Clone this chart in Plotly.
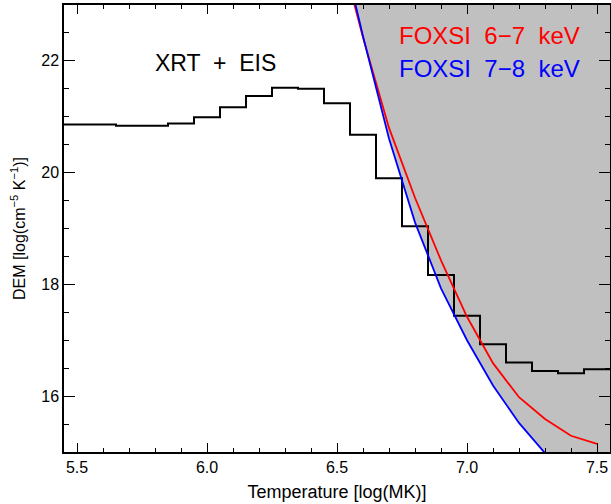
import numpy as np
import plotly.graph_objects as go

# ---- data ----
temp_centers = [5.5, 5.6, 5.7, 5.8, 5.9, 6.0, 6.1, 6.2, 6.3, 6.4, 6.5,
                6.6, 6.7, 6.8, 6.9, 7.0, 7.1, 7.2, 7.3, 7.4, 7.5]
dem_xrt_eis = [20.86, 20.86, 20.84, 20.84, 20.88, 20.99, 21.17, 21.37, 21.52, 21.50, 21.24,
               20.68, 19.90, 19.04, 18.17, 17.44, 16.93, 16.60, 16.45, 16.41, 16.48]
bin_width = 0.1

foxsi67_t = [6.5, 6.6, 6.7, 6.8, 6.9, 7.0, 7.1, 7.2, 7.3, 7.4, 7.5]
foxsi67_dem = [24.2, 22.42, 20.80, 19.55, 18.43, 17.42, 16.59, 15.98, 15.59, 15.29, 15.145]

foxsi78_t = [6.5, 6.6, 6.7, 6.8, 6.9, 7.0, 7.1, 7.2, 7.3]
foxsi78_dem = [24.4, 22.44, 20.61, 19.11, 17.93, 17.0, 16.19, 15.52, 14.98]

x_range = [5.45, 7.55]
y_range = [15, 23]
x_ticks = [5.5, 6.0, 6.5, 7.0, 7.5]
x_ticklabels = ["5.5", "6.0", "6.5", "7.0", "7.5"]
y_ticks = [16, 18, 20, 22]
y_ticklabels = ["16", "18", "20", "22"]

# ---- derived ----
centers = np.array(temp_centers)
edges = np.concatenate([centers - bin_width / 2, [centers[-1] + bin_width / 2]])
edges[0] = max(edges[0], x_range[0])
edges[-1] = min(edges[-1], x_range[1])
step_y = list(dem_xrt_eis) + [dem_xrt_eis[-1]]

n = len(foxsi78_t)
lower = np.minimum(np.array(foxsi67_dem[:n]), np.array(foxsi78_dem))
above = y_range[1] + 3
fill_x = list(foxsi78_t) + [x_range[1] + 0.1, x_range[1] + 0.1, foxsi78_t[0]]
fill_y = list(lower) + [lower[-1], above, above]

fig = go.Figure()
fig.add_trace(go.Scatter(x=fill_x, y=fill_y, fill="toself", mode="none",
                         fillcolor="rgb(192,192,192)", hoverinfo="skip", showlegend=False))
fig.add_trace(go.Scatter(x=edges, y=step_y, mode="lines", line=dict(color="black", width=2, shape="hv"),
                         showlegend=False))
fig.add_trace(go.Scatter(x=foxsi67_t, y=foxsi67_dem, mode="lines", line=dict(color="red", width=1.8),
                         showlegend=False))
fig.add_trace(go.Scatter(x=foxsi78_t, y=foxsi78_dem, mode="lines", line=dict(color="blue", width=1.8),
                         showlegend=False))
# empty traces so the extra tick-only frame axes are drawn
fig.add_trace(go.Scatter(x=[], y=[], xaxis="x2", yaxis="y2", mode="lines", showlegend=False,
                         hoverinfo="skip"))
fig.add_trace(go.Scatter(x=[], y=[], xaxis="x3", yaxis="y3", mode="lines", showlegend=False,
                         hoverinfo="skip"))

font_family = "Liberation Sans"
sp = " \u00a0"
fig.add_annotation(x=6.033, y=21.97, text="XRT" + sp + "+" + sp + "EIS", showarrow=False, xref="x", yref="y",
                   font=dict(size=23, color="black", family=font_family))
fig.add_annotation(x=7.443, y=22.45, text="FOXSI" + sp + "6\u22127" + sp + "keV", showarrow=False,
                   xref="x", yref="y", xanchor="right", font=dict(size=24, color="red", family=font_family))
fig.add_annotation(x=7.443, y=21.87, text="FOXSI" + sp + "7\u22128" + sp + "keV", showarrow=False,
                   xref="x", yref="y", xanchor="right", font=dict(size=24, color="blue", family=font_family))

tickfont = dict(size=16, color="black", family=font_family)
base = dict(showline=True, linecolor="black", linewidth=1.5, ticks="inside", tickcolor="black",
            tickwidth=1.2, showgrid=False, zeroline=False, automargin=False, tickfont=tickfont)
xminor = dict(dtick=0.1, tick0=5.5, ticklen=4.5, ticks="inside", tickcolor="black", tickwidth=1.2)
yminor = dict(dtick=0.5, tick0=15, ticklen=5.5, ticks="inside", tickcolor="black", tickwidth=1.2)

fig.update_layout(
    xaxis=dict(range=x_range, tickvals=x_ticks, ticktext=x_ticklabels, ticklen=9, minor=xminor,
               title=dict(text="Temperature [log(MK)]", font=dict(size=18, color="black", family=font_family),
                          standoff=10), **base),
    yaxis=dict(range=y_range, tickvals=y_ticks, ticktext=y_ticklabels, ticklen=11, minor=yminor,
               title=dict(text="DEM [log(cm<sup>\u22125</sup> K<sup>\u22121</sup>)]",
                          font=dict(size=16, color="black", family=font_family), standoff=12), **base),
    xaxis2=dict(range=x_range, tickvals=x_ticks, ticklen=9, minor=xminor, overlaying="x", side="top",
                anchor="y2", showticklabels=False, **base),
    yaxis2=dict(range=y_range, tickvals=y_ticks, ticklen=11, minor=yminor, overlaying="y", side="right",
                anchor="x2", showticklabels=False, **base),
    xaxis3=dict(range=x_range, tickvals=x_ticks, ticklen=9, minor=xminor, overlaying="x", side="bottom",
                anchor="y3", showticklabels=False, **base),
    yaxis3=dict(range=y_range, tickvals=y_ticks, ticklen=11, minor=yminor, overlaying="y", side="left",
                anchor="x3", showticklabels=False, **base),
    width=611, height=504, margin=dict(l=64, r=1, t=5, b=52),
    plot_bgcolor="white", paper_bgcolor="white",
)
fig.write_html("out.html", config={"displayModeBar": False},
               post_script="document.body.style.margin='0';document.body.style.overflow='hidden';")
